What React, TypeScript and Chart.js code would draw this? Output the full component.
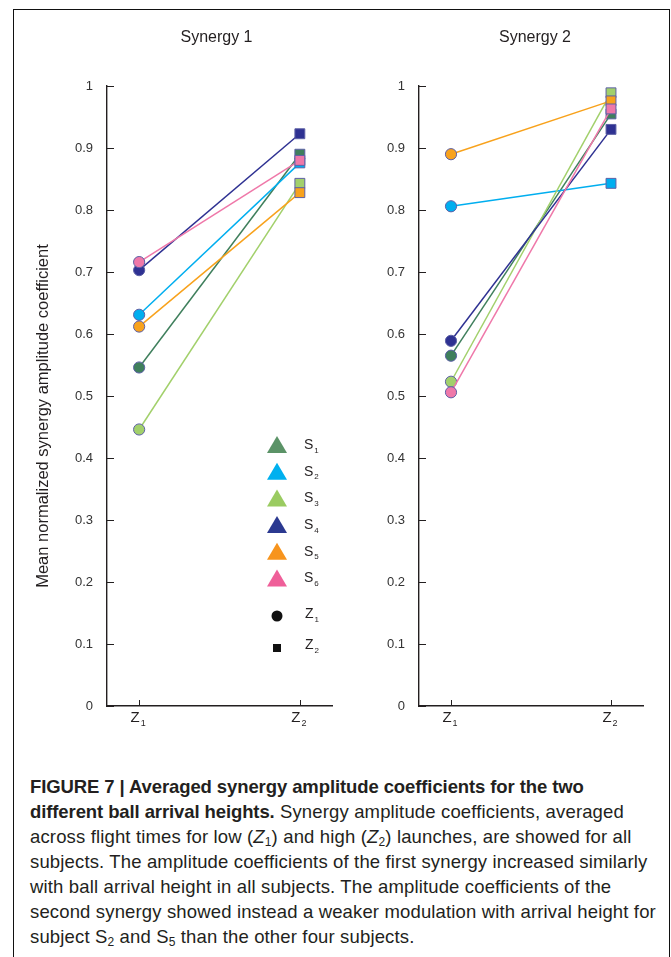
import React, { useEffect, useRef } from "react";
import { Chart, registerables } from "chart.js";
Chart.register(...registerables);

// ---- data ----
const conditions = ["Z1", "Z2"];
const subjects = ["S1", "S2", "S3", "S4", "S5", "S6"];
const synergy1Z1 = [0.546, 0.631, 0.446, 0.703, 0.612, 0.716];
const synergy1Z2 = [0.89, 0.876, 0.843, 0.923, 0.828, 0.88];
const synergy2Z1 = [0.565, 0.806, 0.523, 0.589, 0.89, 0.506];
const synergy2Z2 = [0.955, 0.843, 0.989, 0.93, 0.976, 0.963];
const yTickValues = [0, 0.1, 0.2, 0.3, 0.4, 0.5, 0.6, 0.7, 0.8, 0.9, 1];
const panelTitles = ["Synergy 1", "Synergy 2"];
const yAxisTitle = "Mean normalized synergy amplitude coefficient";

const lineColors = ["#3f7f5c", "#00aeef", "#a2d06b", "#2e3192", "#f8a21c", "#ef78a9"];
const legendColors = ["#5b9367", "#00b0ef", "#9acb61", "#2b3990", "#f7941d", "#ef5f99"];
const markerBorder = "#5d60a6";
const FONT = "'Liberation Sans', Arial, Helvetica, sans-serif";

function drawSub(ctx: CanvasRenderingContext2D, main: string, sub: string, x: number, y: number, size: number, align: "left" | "center") {
  ctx.save();
  ctx.textBaseline = "middle";
  ctx.textAlign = "left";
  ctx.font = `${size}px ${FONT}`;
  const w1 = ctx.measureText(main).width;
  const subSize = Math.round(size * 0.6);
  ctx.font = `${subSize}px ${FONT}`;
  const w2 = ctx.measureText(sub).width;
  const total = w1 + 1 + w2;
  const x0 = align === "center" ? x - total / 2 : x;
  ctx.font = `${size}px ${FONT}`;
  ctx.fillText(main, x0, y);
  ctx.font = `${subSize}px ${FONT}`;
  ctx.fillText(sub, x0 + w1 + 1, y + size * 0.38);
  ctx.restore();
}

function makeChart(canvas: HTMLCanvasElement, idx: number) {
  const z1 = idx === 0 ? synergy1Z1 : synergy2Z1;
  const z2 = idx === 0 ? synergy1Z2 : synergy2Z2;
  const yWidth = idx === 0 ? 107 : 79;
  const padRight = idx === 0 ? 7 : 28;
  const titleOffset = idx === 0 ? -3 : 4;

  const datasets = subjects.map((s, i) => ({
    label: s,
    data: [
      { x: 0, y: z1[i] },
      { x: 1, y: z2[i] },
    ],
    borderColor: lineColors[i],
    backgroundColor: lineColors[i],
    pointBackgroundColor: lineColors[i],
    pointBorderColor: markerBorder,
    pointBorderWidth: 1,
    pointStyle: ["circle", "rect"],
    pointRadius: [5.6, 7],
    borderWidth: 1.5,
    order: subjects.length - i,
  }));

  const decor = {
    id: "decor" + idx,
    afterDraw(chart: any) {
      const ctx = chart.ctx as CanvasRenderingContext2D;
      const { left, right, top, bottom } = chart.chartArea;
      const ys = chart.scales.y;
      const xs = chart.scales.x;
      ctx.save();
      ctx.strokeStyle = "#231f20";
      ctx.lineWidth = 1;
      yTickValues.forEach((v) => {
        const py = Math.round(ys.getPixelForValue(v)) + 0.5;
        ctx.beginPath();
        ctx.moveTo(left, py);
        ctx.lineTo(left + 7, py);
        ctx.stroke();
      });
      conditions.forEach((c, k) => {
        const px = Math.round(xs.getPixelForValue(k)) + 0.5;
        ctx.beginPath();
        ctx.moveTo(px, bottom);
        ctx.lineTo(px, bottom - 6);
        ctx.stroke();
      });
      ctx.fillStyle = "#231f20";
      conditions.forEach((c, k) => {
        const px = xs.getPixelForValue(k);
        drawSub(ctx, c.charAt(0), c.slice(1), px - 1, bottom + 12, 15, "center");
      });
      // title
      ctx.font = `16px ${FONT}`;
      ctx.textAlign = "center";
      ctx.textBaseline = "middle";
      ctx.fillStyle = "#231f20";
      ctx.fillText(panelTitles[idx], (left + right) / 2 + titleOffset, 38);
      if (idx === 0) {
        // y title
        ctx.save();
        ctx.translate(43, (top + bottom) / 2 + 20);
        ctx.rotate(-Math.PI / 2);
        ctx.font = `16.5px ${FONT}`;
        ctx.fillText(yAxisTitle, 0, 0);
        ctx.restore();
        // legend
        const lx = left + 170;
        const ly = top + 359;
        subjects.forEach((s, i) => {
          const cy = ly + i * 26.7;
          ctx.beginPath();
          ctx.moveTo(lx, cy - 9);
          ctx.lineTo(lx - 10, cy + 8);
          ctx.lineTo(lx + 10, cy + 8);
          ctx.closePath();
          ctx.fillStyle = legendColors[i];
          ctx.fill();
          ctx.fillStyle = "#231f20";
          drawSub(ctx, s.charAt(0), s.slice(1), lx + 27, cy, 14, "left");
        });
        ctx.fillStyle = "#111";
        ctx.beginPath();
        ctx.arc(lx, ly + 171, 5.5, 0, Math.PI * 2);
        ctx.fill();
        ctx.fillRect(lx - 4, ly + 199, 8, 8);
        ctx.fillStyle = "#231f20";
        drawSub(ctx, "Z", "1", lx + 28, ly + 169, 14, "left");
        drawSub(ctx, "Z", "2", lx + 28, ly + 200, 14, "left");
      }
      ctx.restore();
    },
  };

  return new Chart(canvas, {
    type: "line",
    data: { datasets },
    plugins: [decor],
    options: {
      animation: false,
      responsive: false,
      maintainAspectRatio: false,
      layout: { padding: { top: 86, right: padRight, left: 0, bottom: 0 } },
      plugins: { legend: { display: false }, tooltip: { enabled: false }, title: { display: false } },
      scales: {
        x: {
          type: "linear",
          min: -0.2,
          max: 1.2,
          grid: { display: false, drawTicks: false },
          ticks: { display: false },
          border: { display: true, color: "#231f20", width: 1.4 },
          afterFit: (s: any) => {
            s.height = 54;
          },
        },
        y: {
          type: "linear",
          min: 0,
          max: 1,
          grid: { display: false, drawTicks: false },
          border: { display: true, color: "#231f20", width: 1.4 },
          afterBuildTicks: (s: any) => {
            s.ticks = yTickValues.map((v) => ({ value: v }));
          },
          ticks: {
            padding: 14,
            color: "#333333",
            font: { family: FONT, size: 13 },
            callback: (v: any) => (v === 0 ? "0" : v === 1 ? "1" : Number(v).toFixed(1)),
          },
          afterFit: (s: any) => {
            s.width = yWidth;
          },
        },
      },
    },
  } as any);
}

function Panel({ idx, left, width }: { idx: number; left: number; width: number }) {
  const ref = useRef<HTMLCanvasElement>(null);
  useEffect(() => {
    const c = makeChart(ref.current!, idx);
    return () => c.destroy();
  }, [idx]);
  return (
    <canvas
      ref={ref}
      width={width}
      height={760}
      style={{ position: "absolute", left, top: 0, width, height: 760 }}
    />
  );
}

const boldStyle: React.CSSProperties = { fontWeight: 700, letterSpacing: "-0.1px" };

const captionLines: React.ReactNode[] = [
  <span key="a" style={boldStyle}>FIGURE 7 | Averaged synergy amplitude coefficients for the two</span>,
  <>
    <span style={boldStyle}>different ball arrival heights.</span> Synergy amplitude coefficients, averaged
  </>,
  <>
    across flight times for low (<i>Z</i>
    <sub>1</sub>) and high (<i>Z</i>
    <sub>2</sub>) launches, are showed for all
  </>,
  <>subjects. The amplitude coefficients of the first synergy increased similarly</>,
  <>with ball arrival height in all subjects. The amplitude coefficients of the</>,
  <>second synergy showed instead a weaker modulation with arrival height for</>,
  <>
    subject S<sub>2</sub> and S<sub>5</sub> than the other four subjects.
  </>,
];

export default function App() {
  return (
    <div
      style={{
        position: "absolute",
        left: 0,
        top: 0,
        width: 671,
        height: 957,
        background: "#fff",
        overflow: "hidden",
        fontFamily: FONT,
      }}
    >
      <div
        style={{
          position: "absolute",
          left: 13,
          top: 9,
          width: 655,
          height: 1000,
          borderLeft: "1.5px solid #111",
          borderTop: "1.5px solid #111",
          borderRight: "1.5px solid #111",
        }}
      />
      <Panel idx={0} left={0} width={340} />
      <Panel idx={1} left={340} width={331} />
      <div
        style={{
          position: "absolute",
          left: 30,
          top: 774,
          fontSize: 18.5,
          letterSpacing: "0.15px",
          lineHeight: "25px",
          color: "#231f20",
          whiteSpace: "nowrap",
        }}
      >
        {captionLines.map((l, i) => (
          <div key={i} style={{ height: 25 }}>
            {l}
          </div>
        ))}
      </div>
      <style>{`sub{font-size:12px;line-height:0;vertical-align:-3px}`}</style>
    </div>
  );
}
